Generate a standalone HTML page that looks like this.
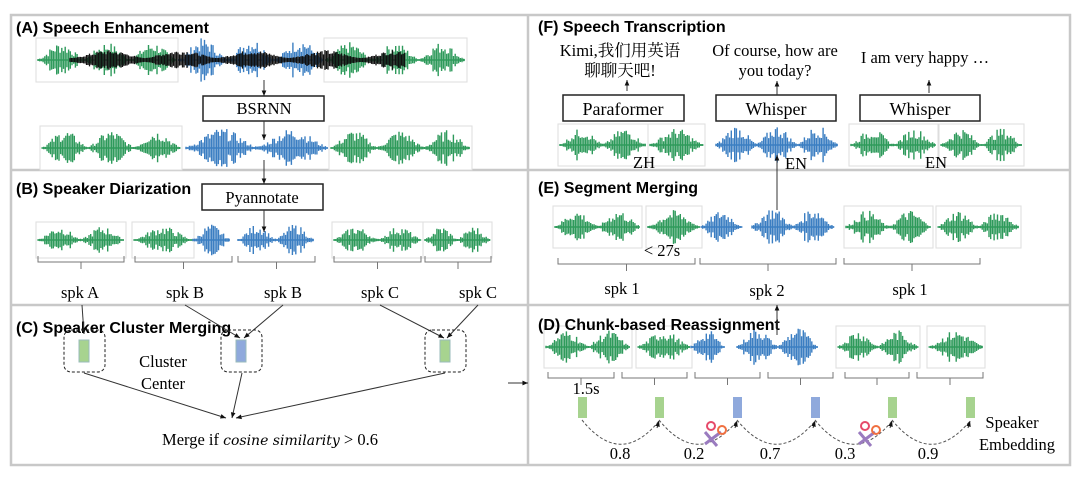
<!DOCTYPE html><html><head><meta charset="utf-8"><style>
body{margin:0;background:#fff}svg{display:block}
.t{font-family:"Liberation Sans",sans-serif;font-weight:bold;font-size:16px}
.s{font-family:"Liberation Serif","Noto Serif CJK SC",serif;font-size:16.5px}
</style></head><body>
<svg id="g" width="1080" height="482" viewBox="0 0 1080 482">
<rect x="0" y="0" width="1080" height="482" fill="#fff"/>
<g fill="none" stroke="#c8c8c8" stroke-width="2.5">
<rect x="11" y="15" width="1059" height="450"/>
<line x1="528" y1="15" x2="528" y2="465"/>
<line x1="11" y1="170" x2="528" y2="170"/><line x1="11" y1="305" x2="528" y2="305"/>
<line x1="528" y1="170" x2="1070" y2="170"/><line x1="528" y1="305" x2="1070" y2="305"/>
</g>
<g id="w"></g>
<g class="t"><text x="16" y="33">(A) Speech Enhancement</text><text x="16" y="194">(B) Speaker Diarization</text><text x="16" y="333">(C) Speaker Cluster Merging</text>
<text x="538" y="32">(F) Speech Transcription</text><text x="538" y="193">(E) Segment Merging</text><text x="538" y="330">(D) Chunk-based Reassignment</text></g>
<g fill="#fff" stroke="#222" stroke-width="1.5">
<rect x="203" y="96" width="121" height="25"/><rect x="202" y="184" width="121" height="26"/>
<rect x="563" y="95" width="121" height="26"/><rect x="716" y="95" width="120" height="26"/><rect x="860" y="95" width="120" height="26"/>
</g>
<g class="s" text-anchor="middle">
<text x="264" y="114">BSRNN</text><text x="262" y="203">Pyannotate</text>
<text x="623" y="115" font-size="18">Paraformer</text><text x="776" y="115" font-size="18">Whisper</text><text x="920" y="115" font-size="18">Whisper</text>
<text x="80" y="298">spk A</text><text x="185" y="298">spk B</text><text x="283" y="298">spk B</text><text x="380" y="298">spk C</text><text x="478" y="298">spk C</text>
<text x="163" y="367">Cluster</text><text x="163" y="389">Center</text>
<text x="270" y="445">Merge if <tspan font-family="DejaVu Serif" font-style="italic" font-size="14">cosine similarity</tspan> &gt; 0.6</text>
<text x="620" y="56">Kimi,我们用英语</text><text x="620" y="76">聊聊天吧!</text>
<text x="775" y="56">Of course, how are</text><text x="775" y="76">you today?</text><text x="925" y="63">I am very happy …</text>
<text x="644" y="168">ZH</text><text x="796" y="169">EN</text><text x="936" y="168">EN</text>
<text x="662" y="256">&lt; 27s</text>
<text x="622" y="294">spk 1</text><text x="767" y="296">spk 2</text><text x="910" y="295">spk 1</text>
<text x="586" y="394">1.5s</text>
<text x="620" y="459">0.8</text><text x="694" y="459">0.2</text><text x="770" y="459">0.7</text><text x="845" y="459">0.3</text><text x="928" y="459">0.9</text>
<text x="1012" y="428">Speaker</text><text x="1017" y="450">Embedding</text>
</g>
<g id="l" stroke="#333" stroke-width="1" fill="none"></g>
</svg>
<script>
var W=document.getElementById('w'),L=document.getElementById('l'),NS='http://www.w3.org/2000/svg';
function el(p,t,a){var e=document.createElementNS(NS,t);for(var k in a)e.setAttribute(k,a[k]);p.appendChild(e);return e}
var seed=7;function r(){seed=(seed*9301+49297)%233280;return seed/233280}
function box(x,y,w,h){el(W,'rect',{x:x,y:y,width:w,height:h,fill:'#fff',stroke:'#ddd','stroke-width':1})}
function wave(x0,x1,y,h,col,n){var d='';var bl=(x1-x0)/n;for(var x=x0;x<x1;x+=1.7){var p=((x-x0)%bl)/bl;var env=Math.pow(Math.sin(Math.PI*p),1.6);var a=h*(0.08+0.92*env)*(0.35+0.65*r());d+='M'+x.toFixed(1)+' '+(y-a).toFixed(1)+'V'+(y+a).toFixed(1);}
el(W,'path',{d:d,stroke:col,'stroke-width':1.4});el(W,'line',{x1:x0,y1:y,x2:x1,y2:y,stroke:col,'stroke-width':1.5})}
var G='#2e9a5b',B='#3b7ec2';
function seg(list){list.forEach(function(s){if(s[5])box(s[0]-2,s[1]-s[3]-4,s[2]-s[0]+4,2*s[3]+8);wave(s[0],s[2],s[1],s[3],s[4],s[6])})}
seg([[38,60,176,18,G,1,3],[179,60,324,22,B,0,3],[326,60,465,18,G,1,3]]);
(function(){var d='';for(var x=70;x<405;x+=1.5){var a=2+8*Math.pow(Math.abs(Math.sin(x/23)),1.5)*(0.4+0.6*r());d+='M'+x+' '+(60-a)+'V'+(60+a)}el(W,'path',{d:d,stroke:'#111','stroke-width':1.3})})();
seg([[42,148,180,18,G,1,3],[186,148,328,20,B,0,2],[331,148,470,18,G,1,3]]);
seg([[38,240,124,14,G,1,2],[134,240,192,14,G,1,1],[193,240,230,16,B,0,1],[238,240,314,16,B,0,2],[334,240,421,14,G,1,2],[425,240,490,14,G,1,2]]);
seg([[560,145,646,17,G,1,2],[650,145,703,17,G,1,1],[716,145,838,20,B,0,3],[851,145,936,17,G,1,2],[941,145,1022,17,G,1,2]]);
seg([[555,227,640,17,G,1,2],[648,227,700,17,G,1,1],[701,227,742,17,B,0,1],[752,227,834,20,B,0,2],[846,227,931,17,G,1,2],[938,227,1019,17,G,1,2]]);
seg([[546,347,630,17,G,1,2],[638,347,690,17,G,1,1],[691,347,725,17,B,0,1],[737,347,818,20,B,0,2],[838,347,918,17,G,1,2],[929,347,983,17,G,1,1]]);
function br(x0,x1,y){el(L,'path',{d:'M'+x0+' '+y+'v6H'+x1+'v-6M'+((x0+x1)/2)+' '+(y+6)+'v7',stroke:'#777'})}
[[38,124],[135,232],[238,315],[334,421],[425,491]].forEach(function(b){br(b[0],b[1],256)});
[[558,695],[700,836],[844,980]].forEach(function(b){br(b[0],b[1],258)});
[[548,614],[622,687],[695,760],[768,833],[845,909],[917,983]].forEach(function(b){br(b[0],b[1],372)});
function ar(x1,y1,x2,y2,c,da){var a=Math.atan2(y2-y1,x2-x1),s=6;el(L,'line',{x1:x1,y1:y1,x2:x2,y2:y2,stroke:c||'#333','stroke-dasharray':da||''});
el(L,'path',{d:'M'+x2+' '+y2+'L'+(x2-s*Math.cos(a-0.4))+' '+(y2-s*Math.sin(a-0.4))+'L'+(x2-s*Math.cos(a+0.4))+' '+(y2-s*Math.sin(a+0.4))+'Z',fill:'#111',stroke:'none'})}
ar(264,80,264,96);ar(264,121,264,140);ar(264,160,264,184);ar(264,210,264,232);
ar(627,91,627,80);ar(777,95,777,81);ar(929,93,929,80);ar(777,210,777,155);ar(777,335,777,305);
ar(82,305,84,334);ar(185,305,240,338);ar(283,305,244,338);ar(380,305,444,338);ar(478,305,447,338);
ar(84,373,226,418);ar(242,373,232,418);ar(445,373,236,418);ar(508,383,528,383);
[[64,330],[221,330],[425,330]].forEach(function(p,i){el(L,'rect',{x:p[0],y:p[1],width:41,height:42,rx:7,'stroke-dasharray':'3,2',stroke:'#222'});el(L,'rect',{x:p[0]+15,y:p[1]+10,width:10,height:22,fill:i==1?'#8fa9dc':'#a7d38f',stroke:'#9bb'})});
var ex=[578,655,733,811,888,966];ex.forEach(function(x,i){el(L,'rect',{x:x,y:397,width:9,height:21,fill:(i==2||i==3)?'#8fa9dc':'#a7d38f',stroke:'none'})});
for(var i=0;i<5;i++){var a=ex[i]+4,b=ex[i+1]+4;var p='M'+a+' 420Q'+((a+b)/2)+' 468 '+b+' 421';el(L,'path',{d:p,'stroke-dasharray':'3,2',stroke:'#555'});ar(b-2,428,b,421)}
[[713,434],[867,434]].forEach(function(s){el(L,'line',{x1:s[0]-8,y1:s[1]+10,x2:s[0]+8,y2:s[1]-2,stroke:'#9a7bbf','stroke-width':3});el(L,'line',{x1:s[0]-8,y1:s[1]-2,x2:s[0]+4,y2:s[1]+12,stroke:'#9a7bbf','stroke-width':3});el(L,'circle',{cx:s[0]-2,cy:s[1]-8,r:4,stroke:'#e64a6a','stroke-width':2});el(L,'circle',{cx:s[0]+9,cy:s[1]-4,r:4,stroke:'#f07040','stroke-width':2})});
</script>
</body></html>
